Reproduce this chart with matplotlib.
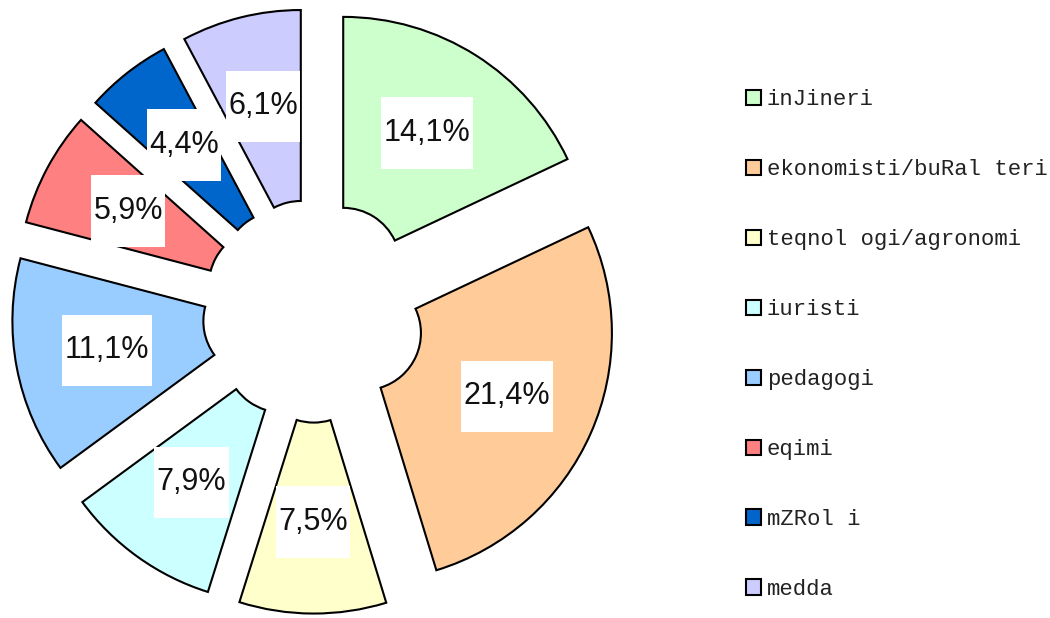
import matplotlib.pyplot as plt
from matplotlib.path import Path

categories = ['inJineri', 'ekonomisti/buRal teri', 'teqnol ogi/agronomi', 'iuristi',
              'pedagogi', 'eqimi', 'mZRol i', 'medda']
shares = [14.1, 21.4, 7.5, 7.9, 11.1, 5.9, 4.4, 6.1]
colors = ['#CCFFCC', '#FFCC99', '#FFFFCC', '#CCFFFF',
          '#99CCFF', '#FF8080', '#0066CC', '#CCCCFF']

LABEL_FONT = ['Liberation Sans Narrow', 'Liberation Sans', 'DejaVu Sans']


def label_box(x0, y0, width, height, mutation_size):
    # white tag behind each percent: tall, tight at the sides
    px = 0.08 * mutation_size
    py = 0.68 * mutation_size
    x0, y0 = x0 - px, y0 - py
    x1, y1 = x0 + width + 2 * px, y0 + height + 2 * py
    return Path([(x0, y0), (x1, y0), (x1, y1), (x0, y1), (x0, y0)], closed=True)


def main():
    fig = plt.figure(figsize=(10.5, 6.18), dpi=100)
    ax = fig.add_axes([-0.008, -0.0249, 0.6141, 1.0434])

    wedges, texts, autotexts = ax.pie(
        shares, colors=colors, startangle=90, counterclock=False,
        explode=[0.22] * len(shares), pctdistance=0.63,
        autopct=lambda p: '',
        wedgeprops=dict(width=0.77, edgecolor='black', linewidth=1.5))

    for t, v in zip(autotexts, shares):
        t.set_text('{:.1f}%'.format(v).replace('.', ','))
        t.set_fontsize(22)
        t.set_family(LABEL_FONT)
        t.set_color('#111111')
        t.set_bbox(dict(boxstyle=label_box, facecolor='white', edgecolor='none'))

    ax.set_xlim(-1.3, 1.3)
    ax.set_ylim(-1.3, 1.3)

    leg = fig.legend(wedges, categories, loc='upper left',
                     bbox_to_anchor=(0.7105, 0.8552), frameon=False,
                     borderpad=0, borderaxespad=0,
                     prop={'family': 'Liberation Mono', 'size': 16},
                     handlelength=0.68, handleheight=0.68,
                     handletextpad=0.25, labelspacing=2.2)
    for txt in leg.get_texts():
        txt.set_color('#222222')

    fig.savefig('out.png', dpi=100)


if __name__ == '__main__':
    main()
